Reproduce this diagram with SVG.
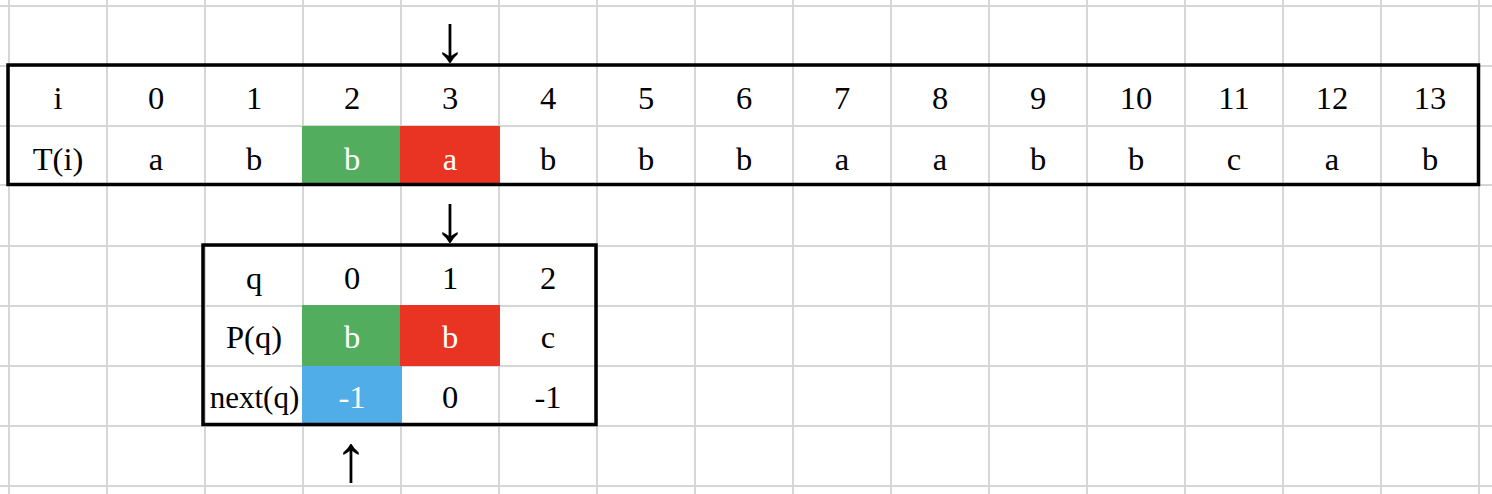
<svg xmlns="http://www.w3.org/2000/svg" width="1492" height="494" viewBox="0 0 1492 494">
<style>
.g{stroke:#d6d6d6;stroke-width:2;fill:none}
.box{fill:none;stroke:#000;stroke-width:3.5}
.t{font-family:"Liberation Serif","Times New Roman",serif;font-size:32.5px;fill:#000;text-anchor:middle}
.w{fill:#fff}
.ar{font-family:"Liberation Serif","DejaVu Serif",serif;font-size:66px;fill:#000;text-anchor:middle}
</style>
<rect width="1492" height="494" fill="#fff"/>
<g id="grid" class="g">
<path d="M9 0V494M107 0V494M205 0V494M303 0V494M401 0V494M499 0V494M597 0V494M695 0V494M793 0V494M891 0V494M989 0V494M1087 0V494M1185 0V494M1283 0V494M1381 0V494M1479 0V494"/>
<path d="M0 6H1492M0 66H1492M0 126H1492M0 185H1492M0 246H1492M0 306H1492M0 366H1492M0 426H1492M0 486H1492"/>
</g>
<g id="tableT">
<rect x="302" y="126" width="98" height="58" fill="#52AD5E"/>
<rect x="400" y="126" width="100" height="58" fill="#E93323"/>
<rect class="box" x="8" y="65" width="1470.5" height="119.5"/>
<g class="t">
<text x="58" y="108.5">i</text>
<text x="156" y="108.5">0</text>
<text x="254" y="108.5">1</text>
<text x="352" y="108.5">2</text>
<text x="450" y="108.5">3</text>
<text x="548" y="108.5">4</text>
<text x="646" y="108.5">5</text>
<text x="744" y="108.5">6</text>
<text x="842" y="108.5">7</text>
<text x="940" y="108.5">8</text>
<text x="1038" y="108.5">9</text>
<text x="1136" y="108.5">10</text>
<text x="1234" y="108.5">11</text>
<text x="1332" y="108.5">12</text>
<text x="1430" y="108.5">13</text>
<text x="58" y="169.5">T(i)</text>
<text x="156" y="169.5">a</text>
<text x="254" y="169.5">b</text>
<text x="352" y="169.5" class="w">b</text>
<text x="450" y="169.5" class="w">a</text>
<text x="548" y="169.5">b</text>
<text x="646" y="169.5">b</text>
<text x="744" y="169.5">b</text>
<text x="842" y="169.5">a</text>
<text x="940" y="169.5">a</text>
<text x="1038" y="169.5">b</text>
<text x="1136" y="169.5">b</text>
<text x="1234" y="169.5">c</text>
<text x="1332" y="169.5">a</text>
<text x="1430" y="169.5">b</text>
</g>
</g>
<g id="tableP">
<rect x="302" y="305" width="98" height="61" fill="#52AD5E"/>
<rect x="400" y="305" width="100" height="61" fill="#E93323"/>
<rect x="302" y="366" width="100" height="58" fill="#50ADE8"/>
<rect class="box" x="203" y="245" width="393" height="179.5"/>
<g class="t">
<text x="254" y="289">q</text>
<text x="352" y="289">0</text>
<text x="450" y="289">1</text>
<text x="548" y="289">2</text>
<text x="254" y="348">P(q)</text>
<text x="352" y="348" class="w">b</text>
<text x="450" y="348" class="w">b</text>
<text x="548" y="348">c</text>
<text x="254.5" y="408" style="font-size:31px">next(q)</text>
<text x="352" y="408" class="w">-1</text>
<text x="450" y="408">0</text>
<text x="548" y="408">-1</text>
</g>
</g>
<g id="connectors" class="ar">
<text x="450" y="60.5">↓</text>
<text x="450" y="240.5">↓</text>
<text x="351" y="481">↑</text>
</g>
</svg>
